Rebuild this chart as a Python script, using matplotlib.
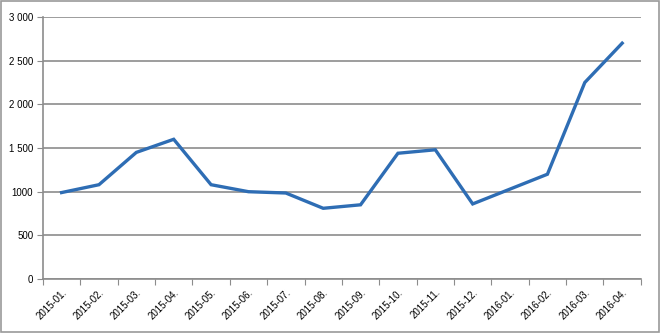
import numpy as np
import matplotlib.pyplot as plt
from matplotlib.patches import Rectangle

months = ["2015-01.", "2015-02.", "2015-03.", "2015-04.", "2015-05.", "2015-06.",
          "2015-07.", "2015-08.", "2015-09.", "2015-10.", "2015-11.", "2015-12.",
          "2016-01.", "2016-02.", "2016-03.", "2016-04."]
values = [990, 1080, 1450, 1600, 1080, 1000, 985, 810, 850, 1440, 1480, 860,
          1030, 1200, 2250, 2700]
y_ticks = [0, 500, 1000, 1500, 2000, 2500, 3000]
y_labels = ["0", "500", "1000", "1 500", "2 000", "2 500", "3 000"]

plt.rcParams['font.family'] = ['Liberation Sans', 'DejaVu Sans']

fig = plt.figure(figsize=(6.6, 3.33), dpi=100)
ax = fig.add_axes([0.065, 0.162, 0.906, 0.787])

x = np.arange(len(months))
ax.plot(x, values, color="#2e6db4", linewidth=2.4, solid_joinstyle="miter")

ax.set_xlim(-0.5, len(months) - 0.5)
ax.set_ylim(0, 3000)

ax.set_yticks(y_ticks)
ax.set_yticklabels(y_labels, fontsize=7)
ax.yaxis.grid(True, color="#8c8c8c", linewidth=1.2)
ax.set_axisbelow(True)
ax.tick_params(axis="y", length=4, color="#8c8c8c", pad=3)

# boundaries as major ticks, labels at category centres
ax.set_xticks(np.arange(-0.5, len(months), 1.0))
ax.set_xticklabels([])
ax.set_xticks(x, minor=True)
ax.set_xticklabels(months, minor=True, rotation=45, ha="right", rotation_mode="anchor", fontsize=7)
ax.tick_params(axis="x", which="major", length=4, color="#8c8c8c")
ax.tick_params(axis="x", which="minor", length=0, pad=6)

for s in ["top", "right"]:
    ax.spines[s].set_visible(False)
for s in ["left", "bottom"]:
    ax.spines[s].set_color("#8c8c8c")
    ax.spines[s].set_linewidth(1.2)

fig.patches.append(Rectangle((0.002, 0.003), 0.996, 0.994, transform=fig.transFigure,
                             fill=False, edgecolor="#9a9a9a", linewidth=1.2))

fig.savefig("out.png", dpi=100)
